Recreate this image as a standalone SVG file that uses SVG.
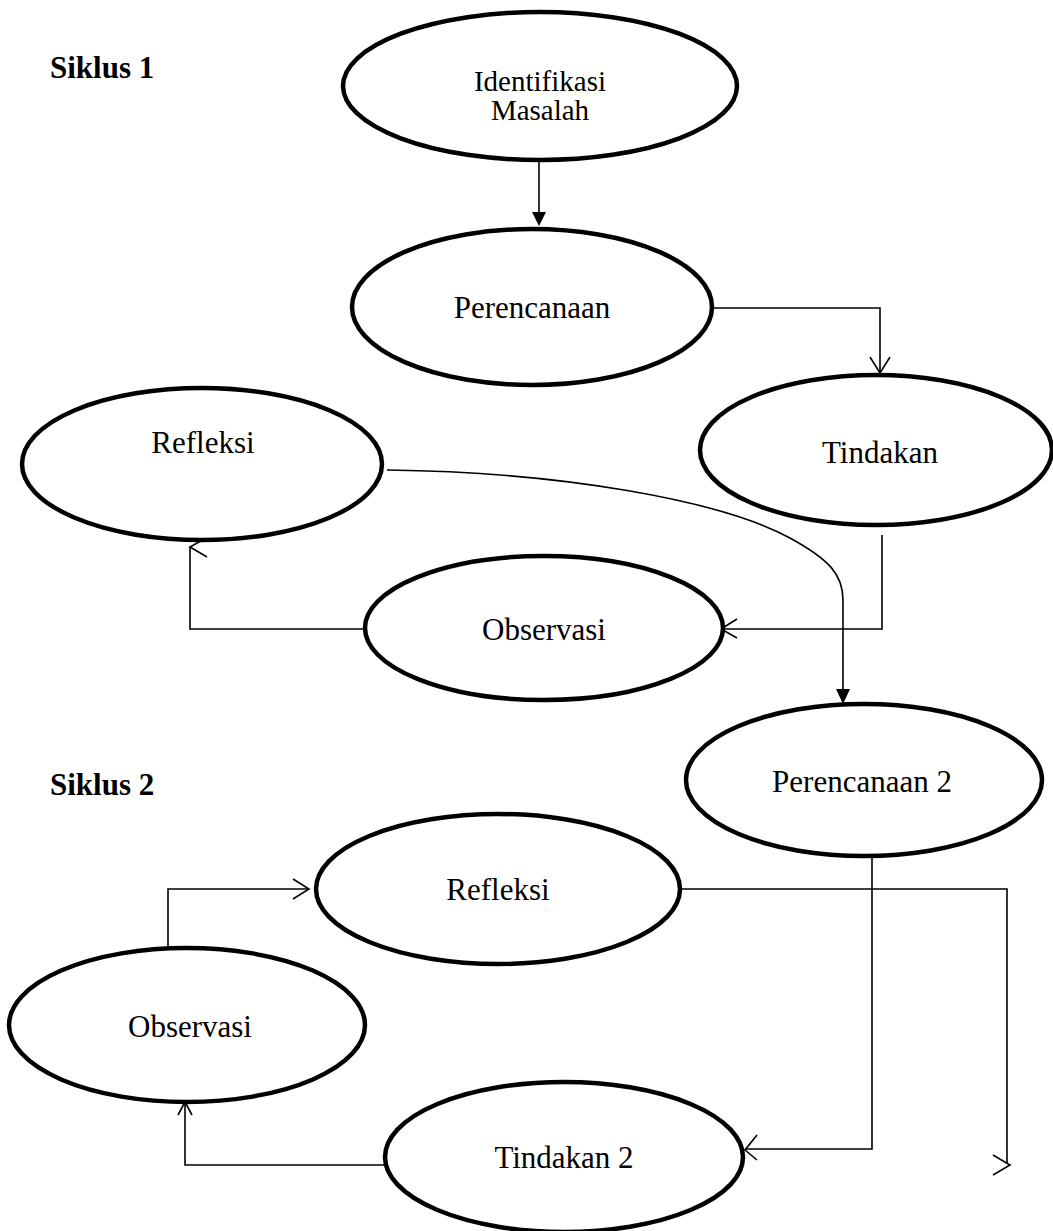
<svg xmlns="http://www.w3.org/2000/svg" width="1053" height="1231" viewBox="0 0 1053 1231">
<style>
.node ellipse{fill:#fff;stroke:#000;stroke-width:4.5}
.lbl{font-family:"Liberation Serif","Times New Roman",serif;font-size:31px;fill:#000;text-anchor:middle}
.sm{font-size:29px}
.title{font-family:"Liberation Serif","Times New Roman",serif;font-size:31px;font-weight:bold;fill:#000}
.con path,.con polyline,.con line{fill:none;stroke:#000;stroke-width:1.6}
.con polygon{fill:#000;stroke:none}
</style>
<rect width="1053" height="1231" fill="#fff"/>
<text class="title" x="50" y="78">Siklus 1</text>
<text class="title" x="50" y="795">Siklus 2</text>

<g class="con">
  <line x1="539" y1="155" x2="539" y2="213"/>
  <polygon points="532,212 546,212 539,226"/>
  <polyline points="713,308 880,308 880,373"/>
  <polyline points="870,357 880,373 890,357"/>
  <polyline points="882,535 882,629 721,629"/>
  <polyline points="737,619 721,629 737,638"/>
  <polyline points="365,629 190,629 190,547"/>
  <polyline points="206,538 190,547 207,557"/>
  <path d="M387,470 C560,472 720,500 790,538 C830,560 843,575 843,600 L843,690"/>
  <polygon points="836,689 850,689 843,704"/>
  <polyline points="168,948 168,889 308,889"/>
  <polyline points="293,879 309,889 293,899"/>
  <polyline points="872,857 872,1149 745,1149"/>
  <polyline points="757,1135 745,1150 757,1160"/>
  <polyline points="680,889 1007,889 1007,1163"/>
  <polyline points="993,1155 1010,1165 993,1175"/>
  <polyline points="385,1165 185,1165 185,1102"/>
  <polyline points="178,1115 185,1102 192,1115"/>
</g>

<g id="identifikasi" class="node">
  <ellipse cx="540" cy="86" rx="197" ry="74"/>
  <text class="lbl sm" x="540" y="91">Identifikasi</text>
  <text class="lbl sm" x="540" y="120">Masalah</text>
</g>
<g id="perencanaan" class="node">
  <ellipse cx="532" cy="307" rx="180" ry="78"/>
  <text class="lbl" x="532" y="318">Perencanaan</text>
</g>
<g id="tindakan" class="node">
  <ellipse cx="876" cy="450" rx="176" ry="75"/>
  <text class="lbl" x="880" y="463">Tindakan</text>
</g>
<g id="refleksi1" class="node">
  <ellipse cx="202" cy="464" rx="180" ry="76"/>
  <text class="lbl" x="203" y="453">Refleksi</text>
</g>
<g id="observasi1" class="node">
  <ellipse cx="544" cy="628" rx="179" ry="72"/>
  <text class="lbl" x="544" y="640">Observasi</text>
</g>
<g id="perencanaan2" class="node">
  <ellipse cx="864" cy="780" rx="178" ry="76"/>
  <text class="lbl" x="862" y="792">Perencanaan 2</text>
</g>
<g id="refleksi2" class="node">
  <ellipse cx="498" cy="889" rx="182" ry="75"/>
  <text class="lbl" x="498" y="900">Refleksi</text>
</g>
<g id="observasi2" class="node">
  <ellipse cx="187" cy="1025" rx="178" ry="77"/>
  <text class="lbl" x="190" y="1037">Observasi</text>
</g>
<g id="tindakan2" class="node">
  <ellipse cx="564" cy="1157" rx="179" ry="75"/>
  <text class="lbl" x="564" y="1168">Tindakan 2</text>
</g>
</svg>
